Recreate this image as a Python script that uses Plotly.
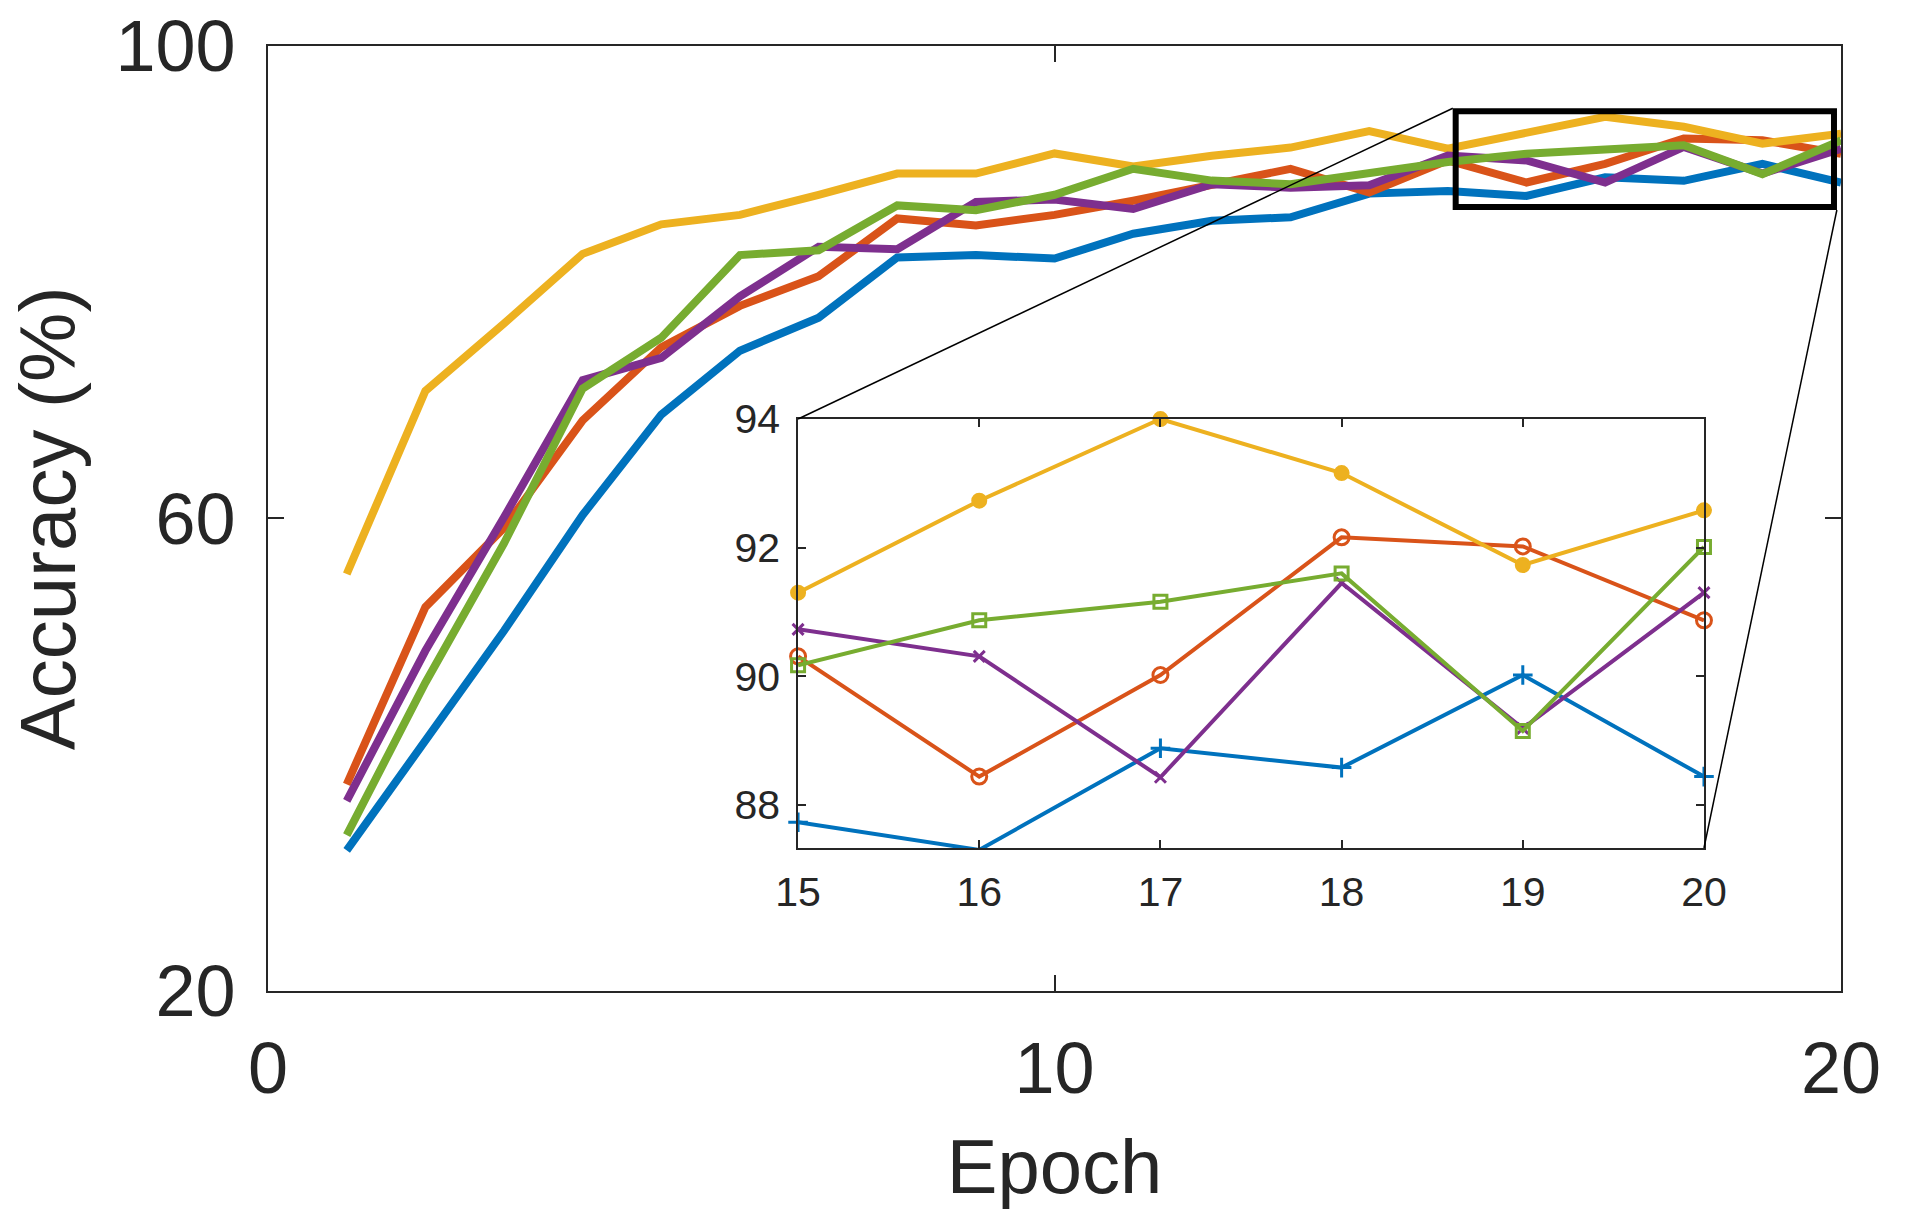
import plotly.graph_objects as go

# epochs and accuracy (%) of the five runs
epochs = list(range(1, 21))
acc_blue = [31.9, 41.2, 50.5, 60.3, 68.8, 74.2, 77.0, 82.1, 82.3, 82.0,
            84.1, 85.2, 85.5, 87.5, 87.73, 87.30, 88.88, 88.58, 90.02, 88.44]
acc_orange = [37.5, 52.5, 59.2, 68.3, 74.5, 78.0, 80.5, 85.4, 84.8, 85.7,
              86.9, 88.3, 89.6, 87.6, 90.31, 88.44, 90.02, 92.16, 92.02, 90.87]
acc_yellow = [55.3, 70.8, 76.5, 82.4, 84.9, 85.7, 87.4, 89.2, 89.2, 90.9,
              89.8, 90.7, 91.4, 92.8, 91.30, 92.73, 94.00, 93.16, 91.73, 92.58]
acc_purple = [36.1, 48.8, 60.1, 71.7, 73.6, 78.8, 83.0, 82.8, 86.8, 87.0,
              86.2, 88.3, 88.0, 88.2, 90.73, 90.31, 88.43, 91.45, 89.19, 91.30]
acc_green = [33.2, 46.1, 57.9, 71.0, 75.3, 82.3, 82.7, 86.5, 86.1, 87.4,
             89.6, 88.6, 88.3, 89.3, 90.17, 90.87, 91.16, 91.60, 89.15, 92.01]

series = [
    ("blue", acc_blue, "#0072BD", "cross-thin-open", 14),
    ("orange", acc_orange, "#D95319", "circle-open", 15),
    ("yellow", acc_yellow, "#EDB120", "circle", 13),
    ("purple", acc_purple, "#7E2F8E", "x-thin-open", 11),
    ("green", acc_green, "#77AC30", "square-open", 13),
]

zoom_from = 15  # the inset shows the last epochs

FONT = "Liberation Sans, Arial, sans-serif"
INK = "#262626"

W, H = 1912, 1209
main_x = [0.1402, 0.9629]
main_y = [0.1803, 0.9620]
inset_x = [0.4174, 0.8912]
inset_y = [0.2986, 0.6534]

fig = go.Figure()

for name, acc, color, symbol, msize in series:
    fig.add_trace(go.Scatter(x=epochs, y=acc, name=name, mode="lines",
                             line=dict(color=color, width=8),
                             xaxis="x", yaxis="y", showlegend=False))

for name, acc, color, symbol, msize in series:
    i0 = epochs.index(zoom_from)
    fig.add_trace(go.Scatter(x=epochs[i0:], y=acc[i0:], name=name,
                             mode="lines+markers",
                             line=dict(color=color, width=4),
                             marker=dict(symbol=symbol, size=msize, color=color,
                                         line=dict(color=color, width=3)),
                             xaxis="x2", yaxis="y2", showlegend=False,
                             cliponaxis=False))

# zoom box on the main axes and the two connector lines to the inset
box = dict(x0=15.1, x1=19.91, y0=86.37, y1=94.47)


def to_paper_x(v):
    return main_x[0] + v / 20 * (main_x[1] - main_x[0])


def to_paper_y(v):
    return main_y[0] + (v - 20) / 80 * (main_y[1] - main_y[0])


fig.add_shape(type="rect", xref="x", yref="y", line=dict(color="black", width=6),
              **box)
fig.add_shape(type="line", xref="paper", yref="paper",
              x0=to_paper_x(box["x0"]) - 0.0015, y0=to_paper_y(box["y1"]) + 0.0025,
              x1=inset_x[0], y1=inset_y[1], line=dict(color="black", width=1.5))
fig.add_shape(type="line", xref="paper", yref="paper",
              x0=to_paper_x(box["x1"]) + 0.0015, y0=to_paper_y(box["y0"]) - 0.0025,
              x1=inset_x[1], y1=inset_y[0], line=dict(color="black", width=1.5))

axis_common = dict(showline=True, linecolor=INK, mirror="ticks", ticks="inside",
                   tickcolor=INK, showgrid=False, zeroline=False, automargin=False,
                   ticklabeloverflow="allow")

fig.update_layout(
    width=W, height=H,
    margin=dict(l=0, r=0, t=0, b=0),
    paper_bgcolor="white", plot_bgcolor="white",
    font=dict(family=FONT, color=INK),
    xaxis=dict(domain=main_x, range=[0, 20], tickvals=[0, 10, 20],
               linewidth=2, ticklen=16, tickwidth=2,
               tickfont=dict(size=72), ticklabelstandoff=14,
               title=dict(text="Epoch", font=dict(size=76), standoff=41),
               anchor="y", **axis_common),
    yaxis=dict(domain=main_y, range=[20, 100], tickvals=[20, 60, 100],
               linewidth=2, ticklen=16, tickwidth=2,
               tickfont=dict(size=72), ticklabelstandoff=16,
               title=dict(text="Accuracy (%)", font=dict(size=78), standoff=14),
               anchor="x", **axis_common),
    xaxis2=dict(domain=inset_x, range=[15, 20], tickvals=[15, 16, 17, 18, 19, 20],
                linewidth=1.5, ticklen=8, tickwidth=1.5,
                tickfont=dict(size=41), ticklabelstandoff=7,
                anchor="y2", **axis_common),
    yaxis2=dict(domain=inset_y, range=[87.33, 94], tickvals=[88, 90, 92, 94],
                linewidth=1.5, ticklen=8, tickwidth=1.5,
                tickfont=dict(size=41), ticklabelstandoff=8,
                anchor="x2", **axis_common),
)

# drop the page's default body margin so the figure fills the window
fig.write_html("out.html", config={"displayModeBar": False},
               post_script="document.body.style.margin = '0';")
